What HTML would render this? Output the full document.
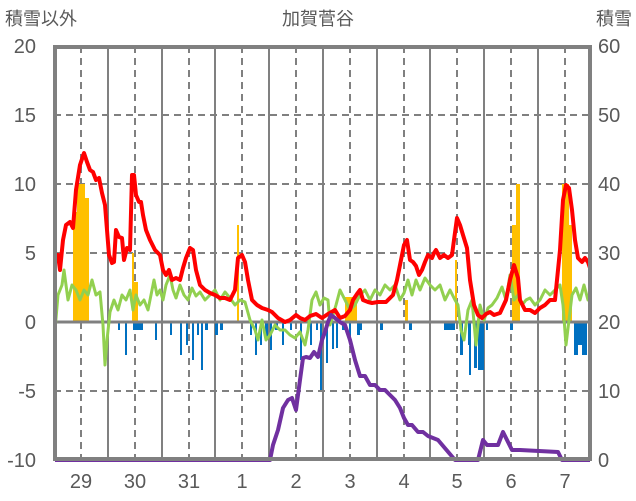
<!DOCTYPE html>
<html><head><meta charset="utf-8"><style>body{margin:0;background:#fff}svg{display:block}</style></head><body>
<svg width="636" height="501" xmlns="http://www.w3.org/2000/svg" font-family="Liberation Sans, Noto Sans CJK JP, sans-serif" fill="#595959">
<text x="318" y="25" font-size="18" text-anchor="middle">加賀菅谷</text>
<text x="5" y="25" font-size="18">積雪以外</text>
<text x="632" y="25" font-size="18" text-anchor="end">積雪</text>
<g font-size="20" text-anchor="end">
<text x="36" y="53">20</text><text x="36" y="122">15</text><text x="36" y="191">10</text><text x="36" y="260">5</text><text x="36" y="329">0</text><text x="36" y="398">-5</text><text x="36" y="467">-10</text>
</g>
<g font-size="20" text-anchor="start">
<text x="598" y="53">60</text><text x="598" y="122">50</text><text x="598" y="191">40</text><text x="598" y="260">30</text><text x="598" y="329">20</text><text x="598" y="398">10</text><text x="598" y="467">0</text>
</g>
<g font-size="20" text-anchor="middle">
<text x="81" y="488">29</text><text x="135" y="488">30</text><text x="189" y="488">31</text><text x="242" y="488">1</text><text x="296" y="488">2</text><text x="350" y="488">3</text><text x="404" y="488">4</text><text x="457" y="488">5</text><text x="511" y="488">6</text><text x="565" y="488">7</text>
</g>
<g stroke="#808080" stroke-width="2" stroke-dasharray="7,5">
<line x1="54" x2="591" y1="115" y2="115"/><line x1="54" x2="591" y1="184" y2="184"/><line x1="54" x2="591" y1="253" y2="253"/><line x1="54" x2="591" y1="391" y2="391"/>
<line x1="81" x2="81" y1="46" y2="460"/><line x1="135" x2="135" y1="46" y2="460"/><line x1="189" x2="189" y1="46" y2="460"/><line x1="242" x2="242" y1="46" y2="460"/><line x1="296" x2="296" y1="46" y2="460"/><line x1="350" x2="350" y1="46" y2="460"/><line x1="404" x2="404" y1="46" y2="460"/><line x1="457" x2="457" y1="46" y2="460"/><line x1="511" x2="511" y1="46" y2="460"/><line x1="565" x2="565" y1="46" y2="460"/>
</g>
<g stroke="#808080" stroke-width="2">
<line x1="108" x2="108" y1="46" y2="460"/><line x1="162" x2="162" y1="46" y2="460"/><line x1="215" x2="215" y1="46" y2="460"/><line x1="269" x2="269" y1="46" y2="460"/><line x1="323" x2="323" y1="46" y2="460"/><line x1="377" x2="377" y1="46" y2="460"/><line x1="430" x2="430" y1="46" y2="460"/><line x1="484" x2="484" y1="46" y2="460"/><line x1="538" x2="538" y1="46" y2="460"/>
</g>
<g fill="#FFC000">
<rect x="73" y="212" width="4" height="110"/><rect x="77" y="184" width="8" height="138"/><rect x="85" y="198" width="4" height="124"/>
<rect x="132" y="253" width="2" height="69"/><rect x="134" y="282" width="4" height="40"/><rect x="237" y="225" width="2" height="97"/>
<rect x="345" y="297" width="12" height="25"/><rect x="405" y="300" width="3" height="22"/><rect x="455" y="260" width="2" height="62"/>
<rect x="512" y="225" width="4" height="97"/><rect x="516" y="184" width="4" height="138"/><rect x="562" y="184" width="7" height="138"/><rect x="569" y="225" width="3" height="97"/>
</g>
<g fill="#0070C0">
<rect x="118" y="322" width="2" height="8"/><rect x="125" y="322" width="2" height="33"/><rect x="133" y="322" width="10" height="8"/><rect x="155" y="322" width="2" height="18"/><rect x="170" y="322" width="2" height="13"/><rect x="180" y="322" width="2" height="33"/><rect x="186" y="322" width="2" height="23"/><rect x="192" y="322" width="2" height="38"/><rect x="197" y="322" width="2" height="13"/><rect x="201" y="322" width="2" height="48"/><rect x="205" y="322" width="3" height="8"/><rect x="215" y="322" width="3" height="13"/><rect x="220" y="322" width="3" height="8"/>
<rect x="250" y="322" width="2" height="13"/><rect x="255" y="322" width="2" height="33"/><rect x="260" y="322" width="2" height="23"/><rect x="265" y="322" width="3" height="18"/><rect x="270" y="322" width="2" height="28"/><rect x="275" y="322" width="3" height="8"/><rect x="282" y="322" width="2" height="23"/><rect x="290" y="322" width="2" height="8"/><rect x="300" y="322" width="2" height="38"/><rect x="310" y="322" width="2" height="23"/><rect x="316" y="322" width="2" height="8"/>
<rect x="320" y="322" width="2" height="68"/><rect x="326" y="322" width="2" height="41"/><rect x="332" y="322" width="2" height="27"/><rect x="336" y="322" width="2" height="26"/><rect x="342" y="322" width="4" height="8"/><rect x="349" y="322" width="2" height="20"/><rect x="357" y="322" width="3" height="13"/><rect x="360" y="322" width="2" height="8"/><rect x="380" y="322" width="3" height="8"/><rect x="409" y="322" width="3" height="8"/><rect x="444" y="322" width="9" height="8"/><rect x="453" y="322" width="2" height="8"/><rect x="460" y="322" width="3" height="33"/><rect x="468" y="322" width="2" height="23"/><rect x="469" y="322" width="2" height="53"/><rect x="474" y="322" width="3" height="46"/><rect x="478" y="322" width="6" height="48"/><rect x="486" y="322" width="2" height="8"/><rect x="510" y="322" width="3" height="8"/><rect x="574" y="322" width="4" height="33"/><rect x="578" y="322" width="4" height="23"/><rect x="582" y="322" width="5" height="33"/><rect x="588" y="322" width="3" height="68"/>
</g>
<line x1="54" x2="591" y1="322" y2="322" stroke="#808080" stroke-width="3"/>
<polyline fill="none" stroke="#92D050" stroke-width="3" stroke-linejoin="round" points="55,330 58,295 62,285 64,270 66,285 68,300 72,285 76,290 80,300 84,290 88,295 92,280 96,295 100,292 103,325 105,365 107,340 110,312 114,300 118,310 122,295 126,300 130,290 133,310 136,295 140,305 144,300 148,310 152,290 154,280 157,295 160,290 163,300 166,285 170,275 173,290 176,298 180,285 184,295 188,300 192,288 196,296 200,292 205,300 210,295 215,290 220,300 225,292 230,298 235,305 240,300 245,302 250,320 255,330 258,340 262,320 266,340 270,335 275,325 280,330 285,330 290,335 295,338 300,332 305,345 308,330 312,300 316,292 320,305 324,298 328,300 330,325 333,315 336,305 340,290 345,300 350,310 355,305 360,295 365,290 370,300 375,290 380,295 385,285 390,290 395,285 400,300 404,293 408,280 412,295 416,280 420,290 425,278 430,285 435,290 440,285 445,300 450,290 455,300 458,305 461,330 464,340 468,310 472,300 476,345 480,305 484,320 488,308 492,305 497,298 502,287 506,300 510,275 514,300 518,295 522,305 526,300 530,298 535,305 540,300 545,290 550,295 555,290 560,285 563,305 566,345 569,320 572,295 576,288 580,300 584,285 588,300 590,298"/>
<polyline fill="none" stroke="#FF0000" stroke-width="4" stroke-linejoin="round" points="55,260 58,255 60,270 63,240 66,225 70,222 73,228 76,190 80,165 84,153 87,162 90,170 93,172 96,180 99,178 102,193 105,205 107,230 109,255 112,263 114,262 116,230 119,237 122,238 124,260 127,248 130,250 132,175 134,175 136,195 139,202 141,202 143,215 146,230 150,240 155,250 160,255 163,270 166,275 169,270 172,280 176,278 180,280 183,268 186,258 190,248 193,250 196,270 200,285 205,290 210,293 215,295 220,298 225,298 230,300 235,290 238,258 242,255 245,262 248,280 252,300 257,305 262,308 268,310 272,312 278,318 285,322 290,320 296,315 300,318 305,320 310,316 316,314 322,318 328,314 335,310 340,318 345,316 350,310 353,300 357,294 360,290 363,300 368,302 372,303 378,302 386,302 390,298 393,295 397,280 400,265 404,245 407,240 410,260 413,262 416,266 419,275 422,270 425,262 428,255 432,258 434,253 436,250 440,258 444,255 448,258 452,255 454,240 457,218 460,225 463,235 467,248 470,280 474,305 478,315 482,318 486,314 490,312 494,315 500,313 506,300 510,280 514,265 518,278 520,300 525,310 530,310 535,313 540,308 545,305 550,300 555,300 560,250 563,200 566,185 569,188 572,210 575,240 578,258 582,262 585,258 588,262 590,268"/>
<polyline fill="none" stroke="#7030A0" stroke-width="4" stroke-linejoin="round" points="55,460 270,460 273,445 278,430 283,408 288,400 292,398 296,410 300,380 303,358 306,357 310,358 314,352 318,357 322,340 325,332 328,322 331,315 335,318 340,322 345,325 350,340 355,360 360,376 365,376 370,385 375,385 380,390 385,390 390,395 395,400 400,408 404,418 408,425 412,425 418,432 423,432 428,436 433,438 438,440 455,460 478,460 483,440 487,445 498,445 503,432 507,440 512,450 520,450 558,452 562,460 590,460"/>
<rect x="55" y="47" width="535" height="412" fill="none" stroke="#808080" stroke-width="4"/>
</svg>
</body></html>
